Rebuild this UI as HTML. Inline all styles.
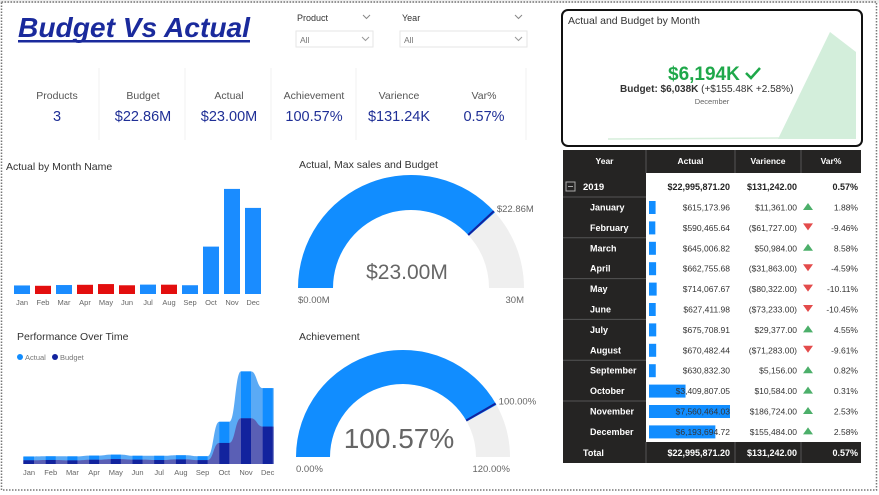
<!DOCTYPE html>
<html><head><meta charset="utf-8"><style>
body{margin:0;width:879px;height:495px;overflow:hidden;background:#fff;font-family:"Liberation Sans",sans-serif}
svg{display:block}
</style></head><body>
<svg id="s" width="879" height="495" viewBox="0 0 879 495" xmlns="http://www.w3.org/2000/svg" font-family="Liberation Sans, sans-serif">
<rect x="0" y="0" width="879" height="495" fill="#fff"/>
<rect x="0" y="0" width="879" height="3" fill="#eee"/>
<rect x="1.5" y="2" width="875" height="488" fill="none" stroke="#777" stroke-width="1.5" stroke-dasharray="1.5,1.5"/>
<g>
<text x="18" y="37" font-size="28" font-weight="bold" font-style="italic" fill="#1a2a9c" textLength="232" lengthAdjust="spacingAndGlyphs">Budget Vs Actual</text>
<rect x="18" y="40" width="232" height="2.5" fill="#1a2a9c"/>
</g>
<g font-size="9" fill="#333">
<text x="297" y="21">Product</text><path d="M363 15l3.5 3.5 3.5-3.5" fill="none" stroke="#888"/>
<rect x="296" y="31" width="77" height="16" fill="#fff" stroke="#e6e6e6"/><text x="300" y="43" fill="#777" font-size="8.5">All</text><path d="M362 37l3.5 3.5 3.5-3.5" fill="none" stroke="#999"/>
</g>
<g font-size="9" fill="#333">
<text x="402" y="21">Year</text><path d="M515 15l3.5 3.5 3.5-3.5" fill="none" stroke="#888"/>
<rect x="400" y="31" width="127" height="16" fill="#fff" stroke="#e6e6e6"/><text x="404" y="43" fill="#777" font-size="8.5">All</text><path d="M515 37l3.5 3.5 3.5-3.5" fill="none" stroke="#999"/>
</g>
<g id="kpis"></g>
<g>
<rect x="562" y="10" width="300" height="136" rx="6" fill="#fff" stroke="#111" stroke-width="2"/>
<text x="568" y="24" font-size="10.5" fill="#333">Actual and Budget by Month</text>
<line x1="608" y1="139" x2="780" y2="138" stroke="#d6eedb" stroke-width="1.5"/>
<path d="M778 139 L830 32 L856 52 L856 139 Z" fill="#d3eedb"/>
<text x="668" y="80" font-size="19" font-weight="bold" fill="#1fa84a">$6,194K</text>
<path d="M746 73l5 5 9-10" fill="none" stroke="#1fa84a" stroke-width="2.5"/>
<text x="620" y="92" font-size="10" fill="#333"><tspan font-weight="bold">Budget: $6,038K</tspan> (+$155.48K +2.58%)</text>
<text x="712" y="104" font-size="7.5" fill="#666" text-anchor="middle">December</text>
</g>
<g>
<text x="6" y="170" font-size="10.5" fill="#333">Actual by Month Name</text>
<g id="bars"></g>
</g>
<g>
<text x="17" y="340" font-size="10.5" fill="#333">Performance Over Time</text>
<circle cx="20" cy="357" r="3" fill="#118dff"/><text x="25" y="360" font-size="7.5" fill="#777">Actual</text>
<circle cx="55" cy="357" r="3" fill="#12239e"/><text x="60" y="360" font-size="7.5" fill="#777">Budget</text>
<g id="perf"></g>
</g>
<g>
<text x="299" y="168" font-size="10.5" fill="#333">Actual, Max sales and Budget</text>
<g id="g1"></g>
</g>
<g>
<text x="299" y="340" font-size="10.5" fill="#333">Achievement</text>
<g id="g2"></g>
</g>
<g id="tbl"></g>
</svg>
<script>
const NS="http://www.w3.org/2000/svg";
const months=["Jan","Feb","Mar","Apr","May","Jun","Jul","Aug","Sep","Oct","Nov","Dec"];
const monthNames=["January","February","March","April","May","June","July","August","September","October","November","December"];
const actualK=[615.17,590.47,645.01,662.76,714.07,627.41,675.71,670.48,630.83,3409.81,7560.46,6193.69];
const varianceK=[11.361,-61.727,50.984,-31.863,-80.322,-73.233,29.377,-71.283,5.156,10.584,186.724,155.484];
const actualTxt=["$615,173.96","$590,465.64","$645,006.82","$662,755.68","$714,067.67","$627,411.98","$675,708.91","$670,482.44","$630,832.30","$3,409,807.05","$7,560,464.03","$6,193,694.72"];
const varTxt=["$11,361.00","($61,727.00)","$50,984.00","($31,863.00)","($80,322.00)","($73,233.00)","$29,377.00","($71,283.00)","$5,156.00","$10,584.00","$186,724.00","$155,484.00"];
const varPctTxt=["1.88%","-9.46%","8.58%","-4.59%","-10.11%","-10.45%","4.55%","-9.61%","0.82%","0.31%","2.53%","2.58%"];
const kpiLabels=["Products","Budget","Actual","Achievement","Varience","Var%"];
const kpiValues=["3","$22.86M","$23.00M","100.57%","$131.24K","0.57%"];
const gauge1=[23.00,22.86,30];
const gauge2=[100.57,100.00,120];
function el(t,a,p,txt){const e=document.createElementNS(NS,t);for(const k in a)e.setAttribute(k,a[k]);if(txt!==undefined)e.textContent=txt;p.appendChild(e);return e;}
// KPIs
const kg=document.getElementById('kpis');
const kx=[57,143,229,314,399,484];
[99,185,271,356,526].forEach(x=>el('line',{x1:x,y1:68,x2:x,y2:140,stroke:'#f0f0f0'},kg));
kpiLabels.forEach((l,i)=>{
 const g=el('g',{},kg);
 
 
 el('text',{x:kx[i],y:99,'font-size':10.5,fill:'#555','text-anchor':'middle'},g,l);
 el('text',{x:kx[i],y:121,'font-size':14.5,fill:'#1f2f96','text-anchor':'middle'},g,kpiValues[i]);
});
// bar chart
const bg=document.getElementById('bars');
const bx=i=>22+i*21, by=v=>294-v/1000*13.9;
actualK.forEach((v,i)=>{
 const r=el('rect',{x:bx(i)-8,y:by(v),width:16,height:294-by(v),fill:varianceK[i]<0?'#e30e0e':'#1a8cff'},bg);
 
 
 el('text',{x:bx(i),y:305,'font-size':7.5,fill:'#666','text-anchor':'middle'},bg,months[i]);
});
// performance stacked area
const pg=document.getElementById('perf');
const px=i=>29+i*21.7, py=v=>464-v/1000*6.2;
const budgetK=actualK.map((a,i)=>a-varianceK[i]);
function smooth(vals){let d='';vals.forEach((v,i)=>{const x=px(i),y=py(v);if(i===0)d+='M'+(x-6)+' '+y+' L'+(x+5)+' '+y;else{const x0=px(i-1)+5,y0=py(vals[i-1]);const m=(x0+x-5)/2;d+=' C'+m+' '+y0+' '+m+' '+y+' '+(x-5)+' '+y+' L'+(i===11?x+6:x+5)+' '+y;}});return d;}
const tot=actualK.map((a,i)=>a+budgetK[i]);
const a1=el('path',{d:smooth(tot)+' L'+(px(11)+6)+' 464 L'+(px(0)-6)+' 464 Z',fill:'#5aaaf5'},pg);

const a2=el('path',{d:smooth(budgetK)+' L'+(px(11)+6)+' 464 L'+(px(0)-6)+' 464 Z',fill:'#5a5fb5'},pg);

months.forEach((m,i)=>{
 const c1=el('rect',{x:px(i)-5,y:py(tot[i]),width:10,height:py(budgetK[i])-py(tot[i]),fill:'#118dff'},pg);
 
 const c2=el('rect',{x:px(i)-5,y:py(budgetK[i]),width:10,height:464-py(budgetK[i]),fill:'#12239e'},pg);
 
 el('text',{x:px(i),y:475,'font-size':7.5,fill:'#666','text-anchor':'middle'},pg,m);
});
// gauges
function gauge(g,cx,cy,R,r,val,tgt,max,valTxt,minTxt,maxTxt,tgtTxt,fs){
 const arc=(f0,f1,Ro,Ri)=>{const a0=Math.PI*(1-f0),a1=Math.PI*(1-f1);const p=(a,rr)=>(cx+rr*Math.cos(a))+' '+(cy-rr*Math.sin(a));return 'M'+p(a0,Ro)+' A'+Ro+' '+Ro+' 0 0 1 '+p(a1,Ro)+' L'+p(a1,Ri)+' A'+Ri+' '+Ri+' 0 0 0 '+p(a0,Ri)+' Z';};
 el('path',{d:arc(0,1,R,r),fill:'#efefef'},g);
 const f=el('path',{d:arc(0,Math.min(val/max,1),R,r),fill:'#118dff'},g);
 
 const ta=Math.PI*(1-tgt/max);
 el('line',{x1:cx+r*Math.cos(ta),y1:cy-r*Math.sin(ta),x2:cx+R*Math.cos(ta),y2:cy-R*Math.sin(ta),stroke:'#12239e','stroke-width':2},g);
 el('text',{x:cx+R*Math.cos(ta)+3,y:cy-R*Math.sin(ta)+1,'font-size':9.5,fill:'#666'},g,tgtTxt);
 el('text',{x:cx-4,y:cy-9,'font-size':fs,fill:'#666','text-anchor':'middle'},g,valTxt);
 el('text',{x:cx-R,y:cy+15,'font-size':9.5,fill:'#666'},g,minTxt);
 el('text',{x:cx+R,y:cy+15,'font-size':9.5,fill:'#666','text-anchor':'end'},g,maxTxt);
}
gauge(document.getElementById('g1'),411,288,113,78,gauge1[0],gauge1[1],gauge1[2],'$'+gauge1[0].toFixed(2)+'M','$0.00M',gauge1[2]+'M','$'+gauge1[1].toFixed(2)+'M',21);
gauge(document.getElementById('g2'),403,457,107,73,gauge2[0],gauge2[1],gauge2[2],gauge2[0].toFixed(2)+'%','0.00%',gauge2[2].toFixed(2)+'%',gauge2[1].toFixed(2)+'%',28);
// table
const tg=document.getElementById('tbl');
const cols=[563,646,735,801,861];
el('rect',{x:563,y:150,width:298,height:23,fill:'#252423'},tg);
['Year','Actual','Varience','Var%'].forEach((h,i)=>{el('text',{x:(cols[i]+cols[i+1])/2,y:164,'font-size':8.5,'font-weight':'bold',fill:'#fff','text-anchor':'middle'},tg,h);});
[646,735,801].forEach(x=>el('line',{x1:x,y1:150,x2:x,y2:173,stroke:'#555'},tg));
el('rect',{x:563,y:173,width:83,height:269,fill:'#252423'},tg);
el('rect',{x:566,y:182,width:9,height:9,fill:'none',stroke:'#aaa'},tg);
el('line',{x1:568,y1:186.5,x2:573,y2:186.5,stroke:'#aaa'},tg);
el('text',{x:583,y:190,'font-size':9.5,'font-weight':'bold',fill:'#fff'},tg,'2019');
el('text',{x:730,y:190,'font-size':9,'font-weight':'bold',fill:'#222','text-anchor':'end'},tg,'$22,995,871.20');
el('text',{x:797,y:190,'font-size':9,'font-weight':'bold',fill:'#222','text-anchor':'end'},tg,'$131,242.00');
el('text',{x:858,y:190,'font-size':9,'font-weight':'bold',fill:'#222','text-anchor':'end'},tg,'0.57%');
const ry=i=>207+i*20.4;
const maxA=Math.max(...actualK);
for(let k=0;k<6;k++)el('line',{x1:563,y1:ry(2*k)-10,x2:646,y2:ry(2*k)-10,stroke:'#555'},tg);
monthNames.forEach((m,i)=>{
 const y=ry(i);
 el('text',{x:590,y:y+3.5,'font-size':9,'font-weight':'bold',fill:'#fff'},tg,m);
 const db=el('rect',{x:649,y:y-6,width:81*actualK[i]/maxA,height:13,fill:'#118dff'},tg);
 
 
 el('text',{x:730,y:y+3.5,'font-size':8.5,fill:'#333','text-anchor':'end'},tg,actualTxt[i]);
 el('text',{x:797,y:y+3.5,'font-size':8.5,fill:'#333','text-anchor':'end'},tg,varTxt[i]);
 if(varianceK[i]>=0)el('path',{d:`M803 ${y+3}l5 -7 5 7z`,fill:'#4caf6a'},tg);
 else el('path',{d:`M803 ${y-4}l5 7 5 -7z`,fill:'#e34b4b'},tg);
 el('text',{x:858,y:y+3.5,'font-size':8.5,fill:'#333','text-anchor':'end'},tg,varPctTxt[i]);
});
el('rect',{x:563,y:442,width:298,height:21,fill:'#252423'},tg);
[646,735,801].forEach(x=>el('line',{x1:x,y1:442,x2:x,y2:463,stroke:'#555'},tg));
el('text',{x:583,y:456,'font-size':9,'font-weight':'bold',fill:'#fff'},tg,'Total');
el('text',{x:730,y:456,'font-size':9,'font-weight':'bold',fill:'#fff','text-anchor':'end'},tg,'$22,995,871.20');
el('text',{x:797,y:456,'font-size':9,'font-weight':'bold',fill:'#fff','text-anchor':'end'},tg,'$131,242.00');
el('text',{x:858,y:456,'font-size':9,'font-weight':'bold',fill:'#fff','text-anchor':'end'},tg,'0.57%');
</script>
</body></html>
